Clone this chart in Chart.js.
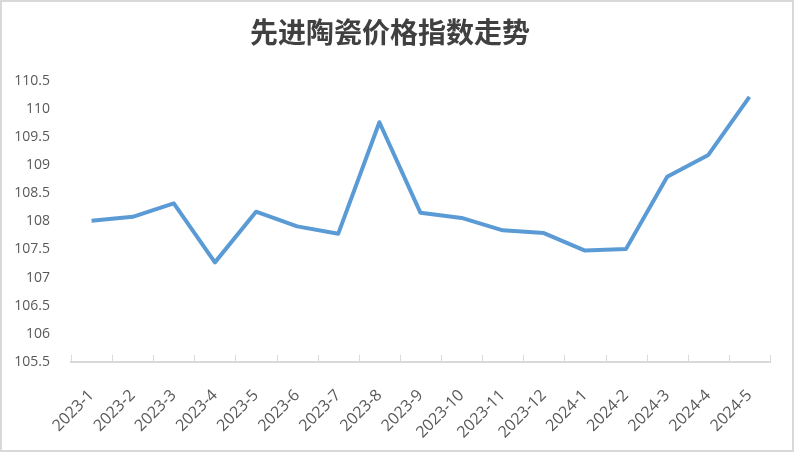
<!DOCTYPE html>
<html>
<head>
<meta charset="utf-8">
<script src="https://cdn.jsdelivr.net/npm/chart.js@4/dist/chart.umd.min.js"></script>
<style>
  html, body { margin: 0; padding: 0; background: #fff; }
  #wrap { width: 794px; height: 452px; position: relative; }
</style>
</head>
<body>
<div id="wrap"><canvas id="priceIndex"></canvas></div>
<script>
// 先进陶瓷价格指数走势
const months = ["2023-1", "2023-2", "2023-3", "2023-4", "2023-5", "2023-6", "2023-7", "2023-8",
  "2023-9", "2023-10", "2023-11", "2023-12", "2024-1", "2024-2", "2024-3", "2024-4", "2024-5"];
const indexValues = [108.01, 108.08, 108.32, 107.27, 108.17, 107.91, 107.78, 109.76,
  108.15, 108.06, 107.84, 107.79, 107.48, 107.51, 108.79, 109.18, 110.21];
const yTicks = [105.5, 106, 106.5, 107, 107.5, 108, 108.5, 109, 109.5, 110, 110.5];

// frame + small tick marks sitting on top of the x axis line
const frame = {
  id: 'frame',
  afterDraw(chart) {
    const ctx = chart.ctx;
    const x = chart.scales.x;
    const bottom = chart.chartArea.bottom;
    ctx.save();
    ctx.strokeStyle = '#d9d9d9';
    ctx.lineWidth = 1;
    for (let i = 0; i <= months.length; i++) {
      const px = Math.round(x.getPixelForValue(i - 0.5)) + 0.5;
      ctx.beginPath();
      ctx.moveTo(px, bottom - 7);
      ctx.lineTo(px, bottom);
      ctx.stroke();
    }
    ctx.lineWidth = 2;
    ctx.strokeRect(1, 1, chart.width - 2, chart.height - 2);
    ctx.restore();
  }
};

function priceChart() {
  const ctx = document.getElementById("priceIndex").getContext('2d');
  const chart = new Chart(ctx, {
    type: 'line',
    data: {
      labels: months,
      datasets: [
        {
          label: "先进陶瓷价格指数",
          data: indexValues,
          borderColor: '#5b9bd5',
          backgroundColor: '#5b9bd5',
          borderWidth: 4,
          pointRadius: 0,
          tension: 0,
          borderJoinStyle: 'round'
        }
      ]
    },
    options: {
      responsive: true,
      maintainAspectRatio: false,
      animation: false,
      layout: { padding: { left: 10, right: 24, top: 0, bottom: 0 } },
      plugins: {
        legend: { display: false },
        tooltip: { enabled: false },
        title: {
          display: true,
          text: "先进陶瓷价格指数走势",
          color: '#404040',
          font: { family: '"Noto Sans CJK SC", sans-serif', size: 28, weight: 'bold' },
          padding: { top: 16, bottom: 31 }
        }
      },
      scales: {
        x: {
          offset: true,
          grid: { display: false, offset: true },
          border: { display: true, color: '#d9d9d9', width: 2 },
          ticks: {
            color: '#595959',
            font: { family: '"Open Sans", "Liberation Sans", sans-serif', size: 16 },
            minRotation: 45,
            maxRotation: 45,
            autoSkip: false,
            padding: 16
          },
          afterFit(scale) { scale.height = 90; }
        },
        y: {
          min: 105.5,
          max: 110.5,
          grid: { display: false },
          border: { display: false },
          afterBuildTicks(scale) { scale.ticks = yTicks.map(v => ({ value: v })); },
          ticks: {
            color: '#595959',
            font: { family: '"Open Sans", "Liberation Sans", sans-serif', size: 14 },
            padding: 13,
            callback: v => String(v)
          },
          afterFit(scale) { scale.width = 61; }
        }
      }
    },
    plugins: [frame]
  });
}
priceChart()
</script>
</body>
</html>
